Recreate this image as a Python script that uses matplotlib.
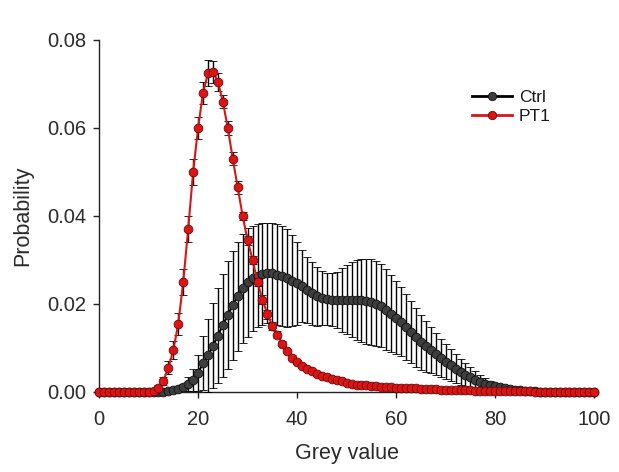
import numpy as np
import matplotlib
matplotlib.use('Agg')
import matplotlib.pyplot as plt
from matplotlib.lines import Line2D

plt.rcParams['font.family'] = ['Liberation Sans', 'DejaVu Sans']

grey = np.arange(0, 101)

# Ctrl mean probability, grey values 0..100
ctrl_mean = [0.0] * 14 + [
    0.0002, 0.0004, 0.0007, 0.0011, 0.0018, 0.0028, 0.0043, 0.0066, 0.0083, 0.0105,  # 14-23
    0.0128, 0.0152, 0.0175, 0.0197, 0.0218, 0.0236, 0.0249, 0.0258, 0.0264, 0.0268,  # 24-33
    0.027, 0.027, 0.0267, 0.0264, 0.0259, 0.0253, 0.0247, 0.024, 0.0232, 0.0224,     # 34-43
    0.0218, 0.0214, 0.0211, 0.021, 0.0209, 0.0209, 0.021, 0.021, 0.0209, 0.0208,     # 44-53
    0.0206, 0.0204, 0.0201, 0.0196, 0.0187, 0.0178, 0.0169, 0.016, 0.0147, 0.0136,   # 54-63
    0.0124, 0.0113, 0.0104, 0.0095, 0.0086, 0.0077, 0.0069, 0.0061, 0.0053, 0.0045,  # 64-73
    0.0039, 0.0034, 0.0028, 0.0023, 0.0019, 0.0016, 0.0013, 0.0011, 0.0009, 0.0007,  # 74-83
    0.0005, 0.0004, 0.0003, 0.0002, 0.0002, 0.0001, 0.0001,                          # 84-90
] + [0.0] * 10
ctrl_sem = [0.0] * 14 + [
    0.0001, 0.0002, 0.0004, 0.0008, 0.0015, 0.0025, 0.004, 0.0062, 0.0082, 0.0097,
    0.0108, 0.0117, 0.0123, 0.0124, 0.0124, 0.0124, 0.0123, 0.012, 0.0117, 0.0115,
    0.0114, 0.0114, 0.0114, 0.0114, 0.0112, 0.0104, 0.0094, 0.0082, 0.0075, 0.0071,
    0.0067, 0.0062, 0.0059, 0.006, 0.0064, 0.0072, 0.0079, 0.0085, 0.009, 0.0094,
    0.0097, 0.0098, 0.0096, 0.0094, 0.0092, 0.0088, 0.0083, 0.0079, 0.0075, 0.0071,
    0.0067, 0.0063, 0.0058, 0.0052, 0.0047, 0.0043, 0.004, 0.0036, 0.0033, 0.003,
    0.0026, 0.0022, 0.0019, 0.0016, 0.0013, 0.001, 0.0008, 0.0006, 0.0005, 0.0004,
    0.0003, 0.0002, 0.0002, 0.0001, 0.0001, 0.0, 0.0,
] + [0.0] * 10

# PT1 mean probability, grey values 0..100
pt1_mean = [0.0] * 11 + [
    0.0003, 0.001, 0.0025, 0.0055, 0.0095, 0.0155, 0.025, 0.037, 0.050, 0.060,      # 11-20
    0.068, 0.0725, 0.0728, 0.0705, 0.066, 0.060, 0.053, 0.0465, 0.040, 0.0345,      # 21-30
    0.030, 0.025, 0.021, 0.0177, 0.015, 0.013, 0.011, 0.0093, 0.0078, 0.0068,       # 31-40
    0.006, 0.0053, 0.0047, 0.0042, 0.0037, 0.0033, 0.003, 0.0027, 0.0024, 0.0021,   # 41-50
    0.0019, 0.0017, 0.0016, 0.0015, 0.0014, 0.0013, 0.0012, 0.0011, 0.0011, 0.001,  # 51-60
    0.0009, 0.0009, 0.0008, 0.0008, 0.0007, 0.0007, 0.0006, 0.0006, 0.0005, 0.0005, # 61-70
    0.0005, 0.0004, 0.0004, 0.0004, 0.0004, 0.0003, 0.0003, 0.0003, 0.0003, 0.0003, # 71-80
    0.0002, 0.0002, 0.0002, 0.0002, 0.0002, 0.0002, 0.0002, 0.0001, 0.0001, 0.0001, # 81-90
    0.0001, 0.0001, 0.0001, 0.0001, 0.0001, 0.0001, 0.0001, 0.0001, 0.0001, 0.0001  # 91-100
]
pt1_sem = [0.0] * 11 + [
    0.0002, 0.0005, 0.001, 0.0015, 0.002, 0.0025, 0.003, 0.003, 0.003, 0.0025,
    0.0025, 0.003, 0.0025, 0.002, 0.0015, 0.0015, 0.0015, 0.0015, 0.001, 0.001,
    0.001, 0.001, 0.001, 0.001, 0.001, 0.0008, 0.0006, 0.0005, 0.0005, 0.0004,
    0.0004, 0.0003, 0.0003, 0.0003, 0.0002, 0.0002, 0.0002, 0.0002, 0.0001, 0.0001,
] + [0.0001] * 10 + [0.0] * 40

ctrl_face, ctrl_edge = '#3e3e3e', '#111111'
pt1_face, pt1_edge, pt1_line = '#dc1414', '#6e0808', '#d41818'

fig = plt.figure(figsize=(6.19, 4.72), dpi=100)
ax = fig.add_axes([0.160, 0.1695, 0.800, 0.7458])

ax.errorbar(grey, ctrl_mean, yerr=ctrl_sem, color='black', marker='o',
            markersize=6.3, markerfacecolor=ctrl_face, markeredgecolor=ctrl_edge,
            markeredgewidth=0.6, linewidth=1.5, ecolor='black', elinewidth=1,
            capsize=3, capthick=1, clip_on=False, zorder=3)
ax.errorbar(grey, pt1_mean, yerr=pt1_sem, color=pt1_line, marker='o',
            markersize=6.3, markerfacecolor=pt1_face, markeredgecolor=pt1_edge,
            markeredgewidth=0.6, linewidth=1.5, ecolor='black', elinewidth=1,
            capsize=3, capthick=1, clip_on=False, zorder=4)

ax.set_xlim(0, 100)
ax.set_ylim(0, 0.08)
ax.set_xticks([0, 20, 40, 60, 80, 100])
ax.set_yticks([0, 0.02, 0.04, 0.06, 0.08])
ax.set_yticklabels(['0.00', '0.02', '0.04', '0.06', '0.08'])
ax.spines['top'].set_visible(False)
ax.spines['right'].set_visible(False)
for s in ['left', 'bottom']:
    ax.spines[s].set_color('#222222')
    ax.spines[s].set_linewidth(1)
ax.tick_params(direction='out', length=4, width=1, labelsize=14.5,
               colors='#222222', labelcolor='#2a2a2a')
ax.tick_params(axis='x', pad=9)
ax.tick_params(axis='y', pad=5)
ax.set_xlabel('Grey value', fontsize=15.5, color='#2a2a2a', labelpad=10)
ax.set_ylabel('Probability', fontsize=15.5, color='#2a2a2a', labelpad=10)

handles = [
    Line2D([], [], color='black', linewidth=2, marker='o', markersize=6,
           markerfacecolor=ctrl_face, markeredgecolor=ctrl_edge, markeredgewidth=0.6),
    Line2D([], [], color=pt1_line, linewidth=2, marker='o', markersize=6,
           markerfacecolor=pt1_face, markeredgecolor=pt1_edge, markeredgewidth=0.6),
]
leg = ax.legend(handles, ['Ctrl', 'PT1'], loc='upper left',
                bbox_to_anchor=(0.7535, 0.858), frameon=False,
                fontsize=12.5, handlelength=2.3, handletextpad=0.4,
                labelspacing=0.2, borderpad=0, borderaxespad=0)
for t in leg.get_texts():
    t.set_color('#1a1a1a')

fig.savefig('out.png', dpi=100)
